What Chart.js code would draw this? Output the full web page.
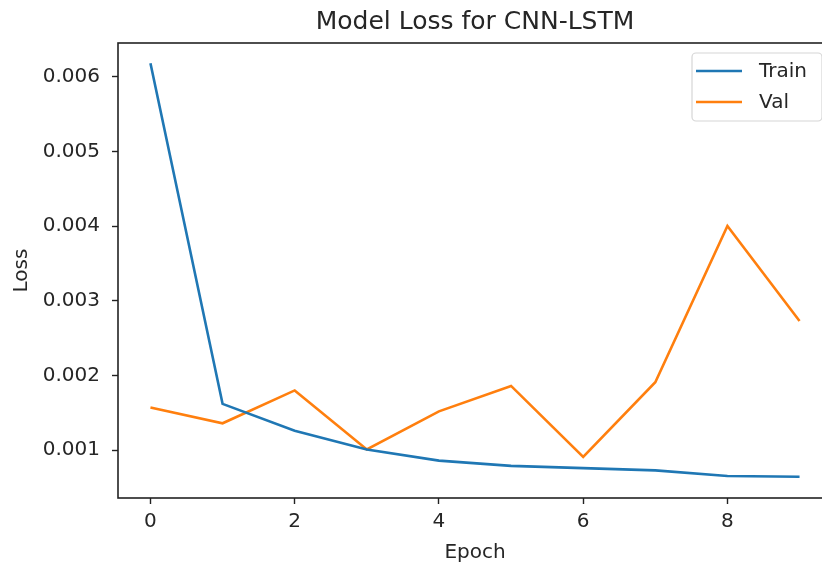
<!DOCTYPE html>
<html>
<head>
<meta charset="utf-8">
<script src="https://cdn.jsdelivr.net/npm/chart.js@4/dist/chart.umd.min.js"></script>
<style>
	html, body { margin: 0; padding: 0; background: #fff; overflow: hidden; }
	#chart { display: block; }
</style>
</head>
<body>
<canvas id="chart" width="840" height="567"></canvas>
<script>
// values
var epochs = [0, 1, 2, 3, 4, 5, 6, 7, 8, 9];
var trainLoss = [0.00618, 0.00162, 0.00126, 0.00101, 0.00086, 0.00079, 0.00076, 0.00073, 0.000655, 0.000645];
var valLoss = [0.00157, 0.00136, 0.00180, 0.00101, 0.00152, 0.00186, 0.00091, 0.00191, 0.00400, 0.00273];
var xTicks = [0, 2, 4, 6, 8];
var yTicks = [0.001, 0.002, 0.003, 0.004, 0.005, 0.006];

var textColor = '#262626',
	fontFamily = '"DejaVu Sans", sans-serif';

function points(values) {
	return epochs.map(function (e, i) {
		return {x: e, y: values[i]};
	});
}

// matplotlib style frame round the plot area
var framePlugin = {
	id: 'frame',
	afterDatasetsDraw: function (chart) {
		var a = chart.chartArea, ctx = chart.ctx;
		ctx.save();
		ctx.strokeStyle = '#222';
		ctx.lineWidth = 1.6;
		ctx.strokeRect(a.left, a.top, a.right - a.left, a.bottom - a.top);
		ctx.restore();
	}
};

// legend box in the upper right corner, drawn over the lines
var boxLegend = {
	id: 'boxLegend',
	afterDraw: function (chart) {
		var a = chart.chartArea, ctx = chart.ctx;
		var w = 130, h = 68,
			left = a.right - 10 - w,
			top = a.top + 10;
		ctx.save();
		ctx.beginPath();
		ctx.roundRect(left, top, w, h, 4);
		ctx.fillStyle = 'rgba(255,255,255,0.85)';
		ctx.fill();
		ctx.strokeStyle = '#d6d6d6';
		ctx.lineWidth = 1.2;
		ctx.stroke();

		ctx.font = '20px ' + fontFamily;
		ctx.textBaseline = 'middle';
		ctx.textAlign = 'left';
		chart.data.datasets.forEach(function (ds, i) {
			var y = top + 18 + i * 31;
			ctx.beginPath();
			ctx.strokeStyle = ds.borderColor;
			ctx.lineWidth = ds.borderWidth;
			ctx.moveTo(left + 4, y);
			ctx.lineTo(left + 50, y);
			ctx.stroke();
			ctx.fillStyle = textColor;
			ctx.fillText(ds.label, left + 67, y + 1);
		});
		ctx.restore();
	}
};

new Chart(document.getElementById('chart'), {
	type: 'line',
	data: {
		datasets: [{
			label: 'Train',
			data: points(trainLoss),
			borderColor: '#1f77b4',
			borderWidth: 2.6,
			pointRadius: 0,
			tension: 0,
			fill: false
		}, {
			label: 'Val',
			data: points(valLoss),
			borderColor: '#ff7f0e',
			borderWidth: 2.6,
			pointRadius: 0,
			tension: 0,
			fill: false
		}]
	},
	options: {
		responsive: false,
		animation: false,
		layout: {padding: {left: 0, right: 8, top: 0, bottom: 0}},
		plugins: {
			legend: {display: false},
			tooltip: {enabled: false},
			title: {
				display: true,
				text: 'Model Loss for CNN-LSTM',
				fullSize: false,
				color: textColor,
				font: {family: fontFamily, size: 25, weight: 'normal'},
				padding: {top: 7, bottom: 6}
			}
		},
		scales: {
			x: {
				type: 'linear',
				min: -0.45,
				max: 9.45,
				afterBuildTicks: function (scale) {
					scale.ticks = xTicks.map(function (v) { return {value: v}; });
				},
				afterFit: function (scale) { scale.height = 69; },
				border: {display: false},
				grid: {drawOnChartArea: false, drawTicks: true, tickLength: 6, tickColor: '#222', tickWidth: 1.4},
				ticks: {
					color: textColor,
					font: {family: fontFamily, size: 20},
					padding: 6,
					maxRotation: 0,
					callback: function (v) { return String(v); }
				},
				title: {
					display: true,
					text: 'Epoch',
					color: textColor,
					font: {family: fontFamily, size: 20},
					padding: {top: 0, bottom: 2}
				}
			},
			y: {
				type: 'linear',
				min: 0.00036,
				max: 0.00645,
				afterBuildTicks: function (scale) {
					scale.ticks = yTicks.map(function (v) { return {value: v}; });
				},
				afterFit: function (scale) { scale.width = 118; },
				border: {display: false},
				grid: {drawOnChartArea: false, drawTicks: true, tickLength: 6, tickColor: '#222', tickWidth: 1.4},
				ticks: {
					color: textColor,
					font: {family: fontFamily, size: 20},
					padding: 12,
					callback: function (v) { return v.toFixed(3); }
				},
				title: {
					display: true,
					text: 'Loss',
					color: textColor,
					font: {family: fontFamily, size: 20},
					padding: {top: 10, bottom: 0}
				}
			}
		}
	},
	plugins: [framePlugin, boxLegend]
});
</script>
</body>
</html>
